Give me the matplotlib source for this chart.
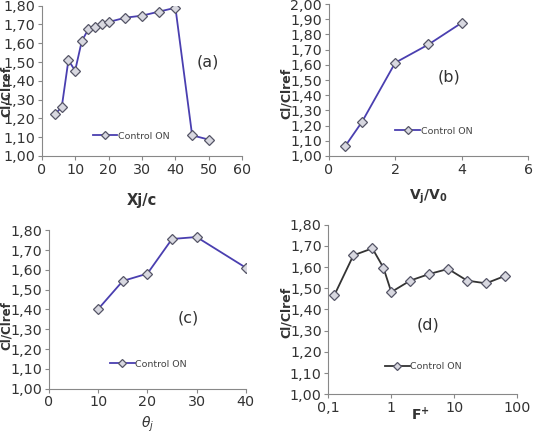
import matplotlib.pyplot as plt
from matplotlib.ticker import FuncFormatter, FixedLocator
import numpy as np

# (a) jet position
xj = [4, 6, 8, 10, 12, 14, 16, 18, 20, 25, 30, 35, 40, 45, 50]
cl_a = [1.223, 1.26, 1.51, 1.454, 1.612, 1.676, 1.688, 1.70, 1.713, 1.736, 1.747, 1.768, 1.789, 1.11, 1.087]
# (b) velocity ratio
vr = [0.5, 1, 2, 3, 4]
cl_b = [1.066, 1.224, 1.614, 1.734, 1.877]
# (c) jet angle
theta = [10, 15, 20, 25, 30, 40]
cl_c = [1.402, 1.544, 1.581, 1.756, 1.766, 1.611]
# (d) frequency
fplus = [0.125, 0.25, 0.5, 0.75, 1, 2, 4, 8, 16, 32, 64]
cl_d = [1.468, 1.655, 1.688, 1.597, 1.482, 1.536, 1.567, 1.591, 1.536, 1.523, 1.558]

comma = FuncFormatter(lambda v, p: f"{v:.2f}".replace(".", ","))
tick_font = 10.3
blue = "#4a3fb0"

fig = plt.figure(figsize=(5.35, 4.34), dpi=100)

def setup(ax, color, xs, ys, legpos, tag, tagpos, ylab, ylab_size=9):
    ax.plot(xs, ys, color=color, lw=1.3, marker="D", ms=4.8,
            mfc="#d8d8e0", mec="#555566", mew=0.9, label="Control ON")
    for s in ["top", "right"]:
        ax.spines[s].set_visible(False)
    for s in ["left", "bottom"]:
        ax.spines[s].set_color("#888888")
        ax.spines[s].set_linewidth(0.8)
    ax.tick_params(direction="out", length=3, width=0.8, color="#888888",
                   labelsize=tick_font, labelcolor="#333333", pad=1.7)
    ax.yaxis.set_major_formatter(comma)
    ax.set_ylabel("Cl/Clref", fontsize=ylab_size, fontweight="bold", color="#333333")
    ax.yaxis.set_label_coords(ylab[0], ylab[1])
    leg = ax.legend(loc="center left", bbox_to_anchor=legpos, frameon=False,
                    fontsize=6.8, handlelength=2.6, handletextpad=0.1, borderpad=0,
                    borderaxespad=0, markerscale=0.8)
    for t in leg.get_texts():
        t.set_color("#444444")
    ax.text(tagpos[0], tagpos[1], tag, transform=ax.transAxes, fontsize=11.5,
            color="#333333", ha="center", va="center")

ax1 = fig.add_axes([0.0779, 0.6406, 0.375, 0.3463])
setup(ax1, blue, xj, cl_a, (0.254, 0.131), "(a)", (0.83, 0.623), (-0.146, 0.43))
ax1.set_xlim(0, 60)
ax1.set_ylim(1.0, 1.8)
ax1.set_xticks(range(0, 61, 10))
ax1.set_yticks(np.arange(1.0, 1.81, 0.1))
ax1.set_xlabel("Xj/c", fontsize=10.5, fontweight="bold", color="#333333", labelpad=12)

ax2 = fig.add_axes([0.6144, 0.6406, 0.373, 0.350])
setup(ax2, blue, vr, cl_b, (0.334, 0.164), "(b)", (0.603, 0.518), (-0.18, 0.41))
ax2.set_xlim(0, 6)
ax2.set_ylim(1.0, 2.0)
ax2.set_xticks(range(0, 7, 2))
ax2.set_yticks(np.arange(1.0, 2.01, 0.1))
ax2.set_xlabel(r"$\mathbf{V_j/V_0}$", fontsize=10, color="#333333", labelpad=8)

ax3 = fig.add_axes([0.0915, 0.1044, 0.368, 0.365])
setup(ax3, blue, theta, cl_c, (0.31, 0.154), "(c)", (0.705, 0.448), (-0.185, 0.40), 8.5)
ax3.set_xlim(0, 40)
ax3.set_ylim(1.0, 1.8)
ax3.set_xticks(range(0, 41, 10))
ax3.set_yticks(np.arange(1.0, 1.81, 0.1))
ax3.set_xlabel(r"$\theta_j$", fontsize=10, color="#333333", labelpad=4)

ax4 = fig.add_axes([0.6137, 0.0915, 0.353, 0.391])
setup(ax4, "#333333", fplus, cl_d, (0.30, 0.163), "(d)", (0.529, 0.409), (-0.19, 0.48))
ax4.set_xscale("log")
ax4.set_xlim(0.1, 100)
ax4.set_ylim(1.0, 1.8)
ax4.xaxis.set_major_locator(FixedLocator([0.1, 1, 10, 100]))
ax4.xaxis.set_minor_locator(FixedLocator([]))
ax4.xaxis.set_major_formatter(FuncFormatter(lambda v, p: f"{v:g}".replace(".", ",")))
ax4.set_yticks(np.arange(1.0, 1.81, 0.1))
ax4.text(0.49, -0.12, r"$\mathbf{F^{+}}$", transform=ax4.transAxes, fontsize=10,
         color="#333333", ha="center", va="center")

fig.savefig("out.png", dpi=100)
